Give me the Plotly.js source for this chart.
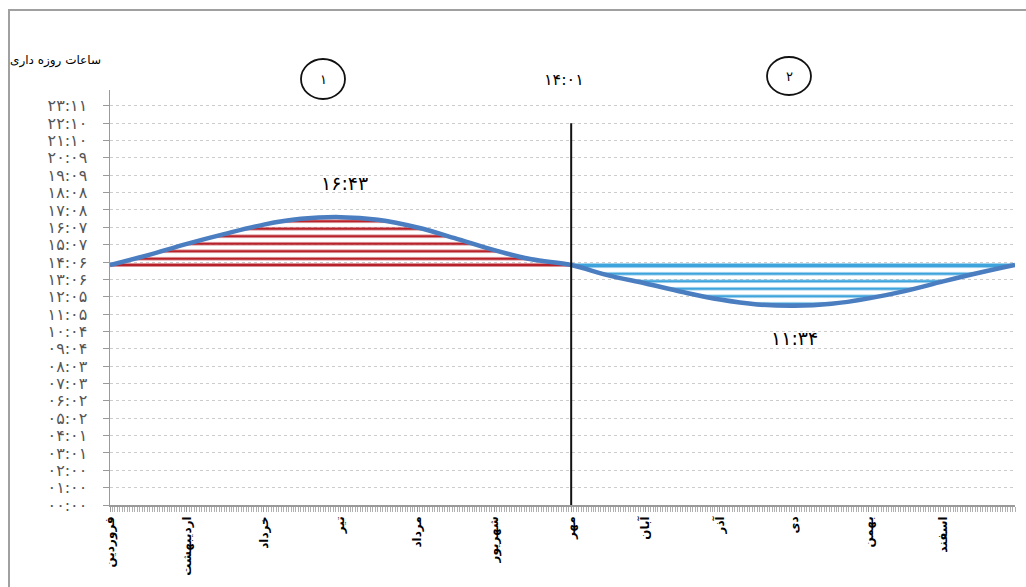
<!DOCTYPE html>
<html>
<head>
<meta charset="utf-8">
<script src="https://cdn.plot.ly/plotly-3.0.1.min.js"></script>
<style>html,body{margin:0;padding:0;background:#fff;}#chart{width:1026px;height:587px;}</style>
</head>
<body>
<div id="chart"></div>
<script>
// ---- data ----
const monthNames = ['فروردین','اردیبهشت','خرداد','تیر','مرداد','شهریور','مهر','آبان','آذر','دی','بهمن','اسفند'];
const monthStartDays = [0,31,62,93,124,155,186,216,246,276,306,336];
const sampleDays = [0,15,31,46,62,77,93,108,124,139,155,170,186,201,216,231,246,261,276,291,306,321,336,351,365];
const fastMinutes = [836,870,910,944,977,997,1003,994,967,930,888,856,836,800,772,742,716,699,694,701,720,746,779,810,836];
const baselineMinutes = 836;
const yTickLabels = ['۰۰:۰۰','۰۱:۰۰','۰۲:۰۰','۰۳:۰۱','۰۴:۰۱','۰۵:۰۲','۰۶:۰۲','۰۷:۰۳','۰۸:۰۳','۰۹:۰۴','۱۰:۰۴','۱۱:۰۵','۱۲:۰۵','۱۳:۰۶','۱۴:۰۶','۱۵:۰۷','۱۶:۰۷','۱۷:۰۸','۱۸:۰۸','۱۹:۰۹','۲۰:۰۹','۲۱:۱۰','۲۲:۱۰','۲۳:۱۱'];
const yTopMinutes = 1391; // ۲۳:۱۱
const chartTitle = 'ساعات روزه داری';
const equinoxLabel = '۱۴:۰۱';
const maxLabel = '۱۶:۴۳';
const minLabel = '۱۱:۳۴';
const partLabels = ['۱','۲'];

// ---- derived ----
const step = yTopMinutes / (yTickLabels.length - 1);
const yTickVals = yTickLabels.map((_, i) => i * step);
const splitIdx = sampleDays.indexOf(monthStartDays[6]);
const d1 = sampleDays.slice(0, splitIdx + 1), v1 = fastMinutes.slice(0, splitIdx + 1);
const d2 = sampleDays.slice(splitIdx), v2 = fastMinutes.slice(splitIdx);
const peakIdx = fastMinutes.indexOf(Math.max(...fastMinutes));
const lowIdx = fastMinutes.indexOf(Math.min(...fastMinutes));

const RED = '#B8222A', LBLUE = '#3FA3DC', CURVE = '#4A7EC0';
const FONT = 'DejaVu Sans';

const traces = [
  {x: [d1[0], d1[d1.length-1]], y: [baselineMinutes, baselineMinutes], mode: 'lines',
   line: {color: RED, width: 3}, hoverinfo: 'skip', showlegend: false},
  {x: d1, y: v1, mode: 'lines', line: {width: 0, shape: 'spline'}, fill: 'tonexty',
   fillcolor: 'rgba(0,0,0,0)',
   fillpattern: {shape: '-', fgcolor: RED, bgcolor: 'rgba(0,0,0,0)', size: 7.5, solidity: 0.36},
   hoverinfo: 'skip', showlegend: false},
  {x: [d2[0], d2[d2.length-1]], y: [baselineMinutes, baselineMinutes], mode: 'lines',
   line: {color: LBLUE, width: 3}, hoverinfo: 'skip', showlegend: false},
  {x: d2, y: v2, mode: 'lines', line: {width: 0, shape: 'spline'}, fill: 'tonexty',
   fillcolor: 'rgba(0,0,0,0)',
   fillpattern: {shape: '-', fgcolor: LBLUE, bgcolor: 'rgba(0,0,0,0)', size: 7.5, solidity: 0.36},
   hoverinfo: 'skip', showlegend: false},
  {x: sampleDays, y: fastMinutes, mode: 'lines', line: {color: CURVE, width: 4.5, shape: 'spline'},
   showlegend: false}
];

// plot area in pixels: x 110..1015, y 90..505
const L = 110, R = 11, T = 90, B = 82, W = 1026, H = 587;
const pw = W - L - R, ph = H - T - B;
const px = X => (X - L) / pw;
const py = Y => (H - B - Y) / ph;

const txt = (text, X, Y, size) => ({text, xref: 'paper', yref: 'paper', x: px(X), y: py(Y),
  xanchor: 'center', yanchor: 'middle', showarrow: false, font: {family: FONT, size, color: '#000'}});

const layout = {
  width: W, height: H,
  margin: {l: L, r: R, t: T, b: B},
  paper_bgcolor: '#fff', plot_bgcolor: '#fff',
  showlegend: false,
  xaxis: {
    range: [0, 365], tickvals: monthStartDays, ticktext: monthNames, tickangle: -90,
    ticks: 'outside', ticklen: 5, tickcolor: '#9a9a9a', showgrid: false, zeroline: false,
    showline: true, linecolor: '#9a9a9a', linewidth: 1.5,
    minor: {dtick: 1, tick0: 0, ticks: 'outside', ticklen: 5, tickcolor: '#b0b0b0', showgrid: false},
    tickfont: {family: FONT, size: 12, color: '#000', weight: 'bold'}
  },
  yaxis: {
    range: [0, 1446], tickvals: yTickVals, ticktext: yTickLabels,
    ticks: 'outside', ticklen: 6, tickcolor: '#9a9a9a', ticklabelstandoff: 12,
    showline: true, linecolor: '#9a9a9a', linewidth: 1.5, zeroline: false,
    showgrid: true, gridcolor: '#cccccc', griddash: 'dot', gridwidth: 1,
    tickfont: {family: FONT, size: 16, color: '#555'}
  },
  shapes: [
    {type: 'rect', xref: 'paper', yref: 'paper', x0: px(9), x1: px(1060), y0: py(640), y1: py(10),
     line: {color: '#a0a0a0', width: 2}, fillcolor: 'rgba(0,0,0,0)', layer: 'below'},
    {type: 'line', xref: 'x', yref: 'y', x0: monthStartDays[6], x1: monthStartDays[6], y0: 0, y1: yTickVals[22],
     line: {color: '#111', width: 2}},
    {type: 'circle', xref: 'paper', yref: 'paper', xsizemode: 'pixel', ysizemode: 'pixel',
     xanchor: px(323), yanchor: py(79), x0: -22, x1: 22, y0: -20, y1: 20, line: {color: '#111', width: 1.8}},
    {type: 'circle', xref: 'paper', yref: 'paper', xsizemode: 'pixel', ysizemode: 'pixel',
     xanchor: px(789), yanchor: py(76), x0: -22, x1: 22, y0: -19, y1: 19, line: {color: '#111', width: 1.8}}
  ],
  annotations: [
    txt(chartTitle, 55, 60, 12),
    txt(partLabels[0], 323, 79, 13),
    txt(partLabels[1], 789, 76, 13),
    txt(equinoxLabel, 564, 80, 16),
    {text: maxLabel, xref: 'x', yref: 'y', x: sampleDays[peakIdx], y: fastMinutes[peakIdx], yshift: 34, xshift: 4,
     xanchor: 'center', yanchor: 'middle', showarrow: false, font: {family: FONT, size: 19, color: '#000'}},
    {text: minLabel, xref: 'x', yref: 'y', x: sampleDays[lowIdx], y: fastMinutes[lowIdx], yshift: -32,
     xanchor: 'center', yanchor: 'middle', showarrow: false, font: {family: FONT, size: 19, color: '#000'}}
  ]
};

Plotly.newPlot('chart', traces, layout, {staticPlot: true, displayModeBar: false});
</script>
</body>
</html>
